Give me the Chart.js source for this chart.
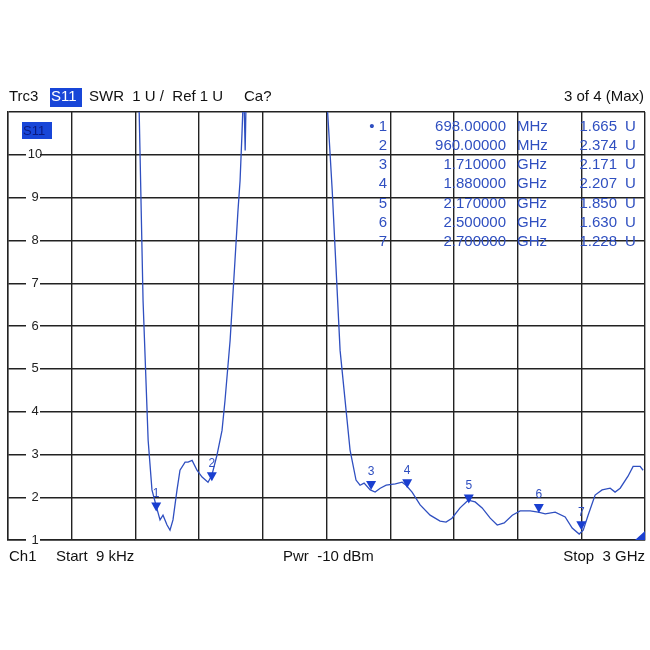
<!DOCTYPE html>
<html><head><meta charset="utf-8">
<script src="https://cdn.jsdelivr.net/npm/chart.js@4"></script>
<style>body{margin:0;background:#fff}#wrap{width:650px;height:650px}</style>
</head><body><div id="wrap"><canvas id="c"></canvas></div>
<script>
// trace (GHz, SWR)
var freqGHz = [0.617,0.636,0.660,0.678,0.698,0.716,0.730,0.749,0.763,0.777,0.796,0.810,0.834,0.848,0.867,0.890,0.914,0.942,0.960,0.984,1.008,1.022,1.046,1.069,1.083,1.093,1.102,1.107,1.112,1.117,1.121];
var swr = [11.2,6.6,3.33,2.17,1.79,1.47,1.58,1.35,1.23,1.47,2.17,2.63,2.82,2.82,2.86,2.63,2.47,2.35,2.51,2.98,3.56,4.26,5.66,7.53,8.69,9.4,10.5,11.2,11.2,10.1,11.2];
// second band of the trace, after it comes back down from off-screen
var freq2 = [1.503,1.527,1.564,1.611,1.639,1.658,1.677,1.706,1.729,1.753,1.781,1.824,1.856,1.875,1.903,1.941,1.988,2.035,2.063,2.091,2.129,2.167,2.200,2.233,2.271,2.304,2.337,2.375,2.412,2.459,2.497,2.530,2.577,2.624,2.657,2.690,2.709,2.732,2.765,2.798,2.836,2.859,2.883,2.920,2.944,2.977,2.991];
var swr2 = [11.2,9.16,5.43,3.1,2.4,2.28,2.33,2.17,2.12,2.21,2.28,2.31,2.35,2.28,2.12,1.82,1.58,1.44,1.42,1.51,1.75,1.93,1.89,1.75,1.51,1.35,1.40,1.58,1.68,1.68,1.65,1.61,1.65,1.54,1.28,1.14,1.23,1.58,2.05,2.17,2.21,2.12,2.21,2.49,2.72,2.72,2.63];
var markerFreq = [0.698,0.960,1.710,1.880,2.170,2.500,2.700];
var markerSwr = [1.665,2.374,2.171,2.207,1.850,1.630,1.228];
var tableFreq = ['698.00000','960.00000','1.710000','1.880000','2.170000','2.500000','2.700000'];
var tableUnit = ['MHz','MHz','GHz','GHz','GHz','GHz','GHz'];
var tableVal = ['1.665','2.374','2.171','2.207','1.850','1.630','1.228'];
var yTicks = [10,9,8,7,6,5,4,3,2,1];

var blue = '#2f4fc0';
var trace1 = freqGHz.map(function (f, i) { return {x: f, y: swr[i]}; });
var trace2 = freq2.map(function (f, i) { return {x: f, y: swr2[i]}; });
var markers = markerFreq.map(function (f, k) { return {x: f, y: markerSwr[k]}; });

var overlay = {
    id: 'overlay',
    afterDraw: function (chart) {
        var c = chart.ctx, xs = chart.scales.x, ys = chart.scales.y, a = chart.chartArea;
        c.save();
        c.font = '15px "Liberation Sans", Arial';
        c.textBaseline = 'middle';
        // header
        c.fillStyle = '#111';
        c.fillText('Trc3', 9, 97);
        c.fillStyle = '#1846d8'; c.fillRect(50, 88, 32, 19);
        c.fillStyle = '#fff'; c.fillText('S11', 51, 97);
        c.fillStyle = '#111';
        c.fillText('SWR  1 U /  Ref 1 U     Ca?', 89, 97);
        c.textAlign = 'right'; c.fillText('3 of 4 (Max)', 644, 97);
        // footer
        c.textAlign = 'left';
        c.fillText('Ch1', 9, 557);
        c.fillText('Start  9 kHz', 56, 557);
        c.fillText('Pwr  -10 dBm', 283, 557);
        c.textAlign = 'right'; c.fillText('Stop  3 GHz', 645, 557);
        // y tick labels inside the grid
        c.font = '13px "Liberation Sans", Arial';
        c.textAlign = 'center';
        yTicks.forEach(function (v) {
            var y = ys.getPixelForValue(v);
            c.fillStyle = '#fff'; c.fillRect(26, y - 7, 14, 14);
            c.fillStyle = '#222'; c.fillText(String(v), 35, y);
        });
        c.fillStyle = '#1846d8'; c.fillRect(22, 122, 30, 17);
        c.fillStyle = '#0a1a80'; c.textAlign = 'left'; c.fillText('S11', 23, 131);
        // marker table
        c.fillStyle = blue; c.font = '15px "Liberation Sans", Arial';
        tableFreq.forEach(function (t, k) {
            var y = 127 + k * 19.1;
            c.textAlign = 'right';
            c.fillText((k === 0 ? '\u2022 ' : '') + (k + 1), 387, y);
            c.fillText(t, 506, y);
            c.fillText(tableVal[k], 617, y);
            c.textAlign = 'left';
            c.fillText(tableUnit[k], 517, y);
            c.fillText('U', 625, y);
        });
        // marker triangles and numbers
        c.textAlign = 'center'; c.font = '12px "Liberation Sans", Arial';
        markers.forEach(function (m, k) {
            var x = xs.getPixelForValue(m.x), y = ys.getPixelForValue(m.y);
            c.fillStyle = '#1a3fd0';
            c.beginPath(); c.moveTo(x - 5, y - 9); c.lineTo(x + 5, y - 9); c.lineTo(x, y); c.closePath(); c.fill();
            c.fillStyle = blue; c.fillText(String(k + 1), x, y - 18);
        });
        c.fillStyle = '#1a3fd0';
        c.beginPath(); c.moveTo(a.right, a.bottom - 9); c.lineTo(a.right, a.bottom); c.lineTo(a.right - 10, a.bottom); c.closePath(); c.fill();
        c.restore();
    }
};

new Chart(document.getElementById('c'), {
    type: 'scatter',
    data: {
        datasets: [
            {data: trace1, showLine: true, borderColor: blue, borderWidth: 1.3, pointRadius: 0, tension: 0},
            {data: trace2, showLine: true, borderColor: blue, borderWidth: 1.3, pointRadius: 0, tension: 0}
        ]
    },
    options: {
        responsive: true, maintainAspectRatio: false, animation: false,
        layout: {padding: {left: 8, top: 112, right: 5, bottom: 110}},
        plugins: {legend: {display: false}, tooltip: {enabled: false}},
        scales: {
            x: {min: 0, max: 3, ticks: {display: false, stepSize: 0.3}, grid: {color: '#222', lineWidth: 1.4, drawTicks: false}, border: {color: '#222', width: 1.4}},
            y: {min: 1, max: 11, ticks: {display: false, stepSize: 1}, grid: {color: '#222', lineWidth: 1.4, drawTicks: false}, border: {color: '#222', width: 1.4}}
        }
    },
    plugins: [overlay]
});
</script></body></html>
